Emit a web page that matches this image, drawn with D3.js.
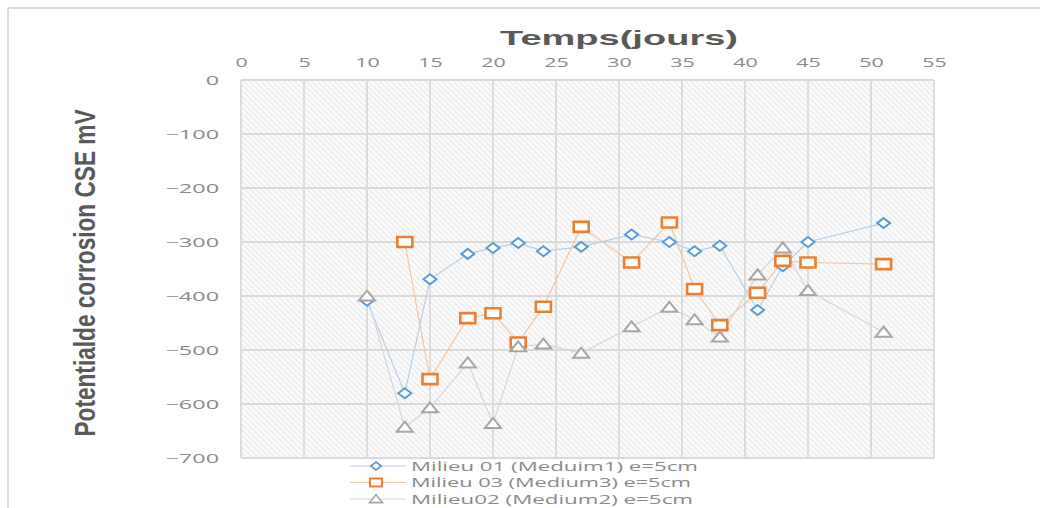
<!DOCTYPE html>
<html>
<head>
<meta charset="utf-8">
<script src="https://cdn.jsdelivr.net/npm/d3@7"></script>
<style>
  html, body { margin: 0; padding: 0; background: #fff; }
  svg { display: block; }
</style>
</head>
<body>
<svg id="chart" width="1040" height="508"></svg>
<script>
// Days of measurement and corrosion potential (mV vs CSE) per medium
const days1 = [10, 13, 15, 18, 20, 22, 24, 27, 31, 34, 36, 38, 41, 43, 45, 51];
const medium1 = [-409, -580, -369, -322, -311, -302, -317, -309, -286, -300, -317, -307, -426, -345, -300, -265];

const days3 = [13, 15, 18, 20, 22, 24, 27, 31, 34, 36, 38, 41, 43, 45, 51];
const medium3 = [-300, -554, -441, -432, -486, -420, -272, -338, -264, -387, -454, -394, -335, -338, -341];

const days2 = [10, 13, 15, 18, 20, 22, 24, 27, 31, 34, 36, 38, 41, 43, 45, 51];
const medium2 = [-400, -643, -607, -524, -636, -494, -489, -506, -457, -421, -444, -476, -361, -311, -390, -467];

const xTicks = [0, 5, 10, 15, 20, 25, 30, 35, 40, 45, 50, 55];
const yTicks = [0, -100, -200, -300, -400, -500, -600, -700];

const seriesNames = [
  "Milieu 01 (Meduim1) e=5cm",
  "Milieu 03 (Medium3) e=5cm",
  "Milieu02 (Medium2) e=5cm"
];

const svg = d3.select("#chart");
const W = 1040, H = 508;

// Widen text horizontally by a factor (keeps anchor position)
function stretch(sel, f) {
  sel.each(function () {
    const L = this.getComputedTextLength();
    d3.select(this).attr("textLength", L * f).attr("lengthAdjust", "spacingAndGlyphs");
  });
}

// Outer frame (top and left edges visible)
svg.append("line").attr("x1", 8).attr("x2", W).attr("y1", 8).attr("y2", 8)
  .attr("stroke", "#dcdcdc").attr("stroke-width", 2);
svg.append("line").attr("x1", 8).attr("x2", 8).attr("y1", 8).attr("y2", H)
  .attr("stroke", "#dcdcdc").attr("stroke-width", 2);

const plot = { left: 241, right: 934, top: 80, bottom: 458 };

const x = d3.scaleLinear().domain([0, 55]).range([plot.left, plot.right]);
const y = d3.scaleLinear().domain([0, -700]).range([plot.top, plot.bottom]);

// Diagonal hatch fill for plot area
const defs = svg.append("defs");
const pat = defs.append("pattern")
  .attr("id", "hatch")
  .attr("patternUnits", "userSpaceOnUse")
  .attr("width", 4).attr("height", 4)
  .attr("patternTransform", "rotate(45)");
pat.append("rect").attr("width", 4).attr("height", 4).attr("fill", "#fcfcfc");
pat.append("line").attr("x1", 0).attr("x2", 4).attr("y1", 1).attr("y2", 1)
  .attr("stroke", "#e2e2e2").attr("stroke-width", 1);

svg.append("rect")
  .attr("x", plot.left).attr("y", plot.top)
  .attr("width", plot.right - plot.left).attr("height", plot.bottom - plot.top)
  .attr("fill", "url(#hatch)");

// Gridlines
const grid = svg.append("g").attr("stroke", "#d9d9d9").attr("stroke-width", 1.8);
grid.selectAll("line.v").data(xTicks).join("line")
  .attr("x1", d => x(d)).attr("x2", d => x(d))
  .attr("y1", plot.top).attr("y2", plot.bottom);
grid.selectAll("line.h").data(yTicks).join("line")
  .attr("x1", plot.left).attr("x2", plot.right)
  .attr("y1", d => y(d)).attr("y2", d => y(d));

// Axes (labels only)
const tickFont = "'Open Sans', sans-serif";
const xAxis = svg.append("g")
  .attr("transform", `translate(0,${plot.top - 13})`)
  .call(d3.axisTop(x).tickValues(xTicks).tickSize(0).tickPadding(0).tickFormat(d3.format("d")));
xAxis.select(".domain").remove();
xAxis.selectAll("text").attr("fill", "#8a8a8a").attr("font-size", 13)
  .attr("font-family", tickFont).attr("dy", "0");
stretch(xAxis.selectAll("text"), 1.65);

const yAxis = svg.append("g")
  .attr("transform", `translate(${plot.left - 22},0)`)
  .call(d3.axisLeft(y).tickValues(yTicks).tickSize(0).tickPadding(0).tickFormat(d3.format("d")));
yAxis.select(".domain").remove();
yAxis.selectAll("text").attr("fill", "#8a8a8a").attr("font-size", 13)
  .attr("font-family", tickFont).attr("dy", "0.35em");
stretch(yAxis.selectAll("text"), 1.8);

// Axis titles
svg.append("text")
  .attr("x", 619).attr("y", 45)
  .attr("text-anchor", "middle")
  .attr("font-family", "'Liberation Sans', Arial, sans-serif")
  .attr("font-weight", "bold").attr("font-size", 21)
  .attr("fill", "#595959")
  .attr("textLength", 238).attr("lengthAdjust", "spacingAndGlyphs")
  .text("Temps(jours)");

svg.append("text")
  .attr("transform", "translate(95,273) rotate(-90)")
  .attr("text-anchor", "middle")
  .attr("font-family", "'Liberation Sans', Arial, sans-serif")
  .attr("font-weight", "bold").attr("font-size", 30)
  .attr("fill", "#595959")
  .attr("textLength", 327).attr("lengthAdjust", "spacingAndGlyphs")
  .text("Potentialde corrosion CSE mV");

// Series
const series = [
  { days: days1, vals: medium1, color: "#5b9bd5", line: "#b4cfea", shape: "diamond" },
  { days: days3, vals: medium3, color: "#ed7d31", line: "#f6c4a2", shape: "square" },
  { days: days2, vals: medium2, color: "#a5a5a5", line: "#d6d6d6", shape: "triangle" }
];

function markerPath(shape) {
  if (shape === "diamond") return "M0,-5L6.5,0L0,5L-6.5,0Z";
  if (shape === "square") return "M-7.5,-5H7.5V5H-7.5Z";
  return "M0,-5.5L8,4.5H-8Z";
}

const lineGen = d3.line().x(d => x(d[0])).y(d => y(d[1]));

series.forEach(s => {
  const pts = s.days.map((d, i) => [d, s.vals[i]]);
  svg.append("path").datum(pts)
    .attr("d", lineGen)
    .attr("fill", "none").attr("stroke", s.line).attr("stroke-width", 1.2);
});

series.forEach(s => {
  const pts = s.days.map((d, i) => [d, s.vals[i]]);
  svg.append("g").selectAll("path").data(pts).join("path")
    .attr("transform", d => `translate(${x(d[0])},${y(d[1])})`)
    .attr("d", markerPath(s.shape))
    .attr("fill", "#fff")
    .attr("stroke", s.color)
    .attr("stroke-width", s.shape === "square" ? 2.6 : 2);
});

// Legend
const legendWidths = [287, 280, 282];
const legend = svg.append("g");
series.forEach((s, i) => {
  const ly = 466 + i * 16.5;
  const g = legend.append("g").attr("transform", `translate(0,${ly})`);
  g.append("line").attr("x1", 350).attr("x2", 406).attr("y1", 0).attr("y2", 0)
    .attr("stroke", s.line).attr("stroke-width", 1.2);
  g.append("path").attr("transform", "translate(376,0) scale(0.8)")
    .attr("d", markerPath(s.shape))
    .attr("fill", "#fff").attr("stroke", s.color)
    .attr("stroke-width", s.shape === "square" ? 2.6 : 2);
  g.append("text").attr("x", 411).attr("y", 0).attr("dy", "0.36em")
    .attr("font-family", tickFont).attr("font-size", 13.5)
    .attr("fill", "#8a8a8a")
    .attr("textLength", legendWidths[i]).attr("lengthAdjust", "spacingAndGlyphs")
    .text(seriesNames[i]);
});
</script>
</body>
</html>
